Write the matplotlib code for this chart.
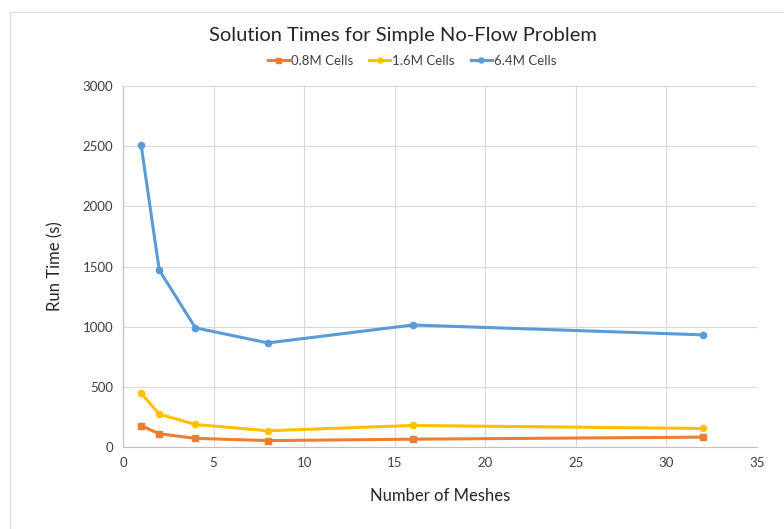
import matplotlib
matplotlib.use("Agg")
import matplotlib.pyplot as plt
from matplotlib.patches import Rectangle

meshes = [1, 2, 4, 8, 16, 32]
cells_08 = [177, 110, 72, 53, 65, 82]
cells_16 = [447, 273, 187, 135, 179, 154]
cells_64 = [2510, 1470, 990, 865, 1014, 932]

x_ticks = [0, 5, 10, 15, 20, 25, 30, 35]
y_ticks = [0, 500, 1000, 1500, 2000, 2500, 3000]

plt.rcParams["font.family"] = ["Lato", "DejaVu Sans"]

fig = plt.figure(figsize=(7.84, 5.29), dpi=100)
# outer chart frame, only its left and top edges are inside the image
fig.patches.append(Rectangle((10 / 784, -0.05), 1.1, 1 - 12 / 529 + 0.05, transform=fig.transFigure,
                             fill=False, edgecolor="#d9d9d9", lw=0.9))
ax = fig.add_axes([123 / 784, 1 - 447 / 529, (757 - 123) / 784, (447 - 86) / 529])

series = [
    ("0.8M Cells", cells_08, "#ED7D31", "s"),
    ("1.6M Cells", cells_16, "#FFC000", "o"),
    ("6.4M Cells", cells_64, "#5B9BD5", "o"),
]
for label, values, color, marker in series:
    ax.plot(meshes, values, color=color, lw=2.2, marker=marker, markersize=4.5, label=label)

ax.set_xlim(0, 35)
ax.set_ylim(0, 3000)
ax.set_xticks(x_ticks)
ax.set_yticks(y_ticks)
ax.grid(True, color="#d9d9d9", lw=0.8)
ax.set_axisbelow(True)
for side in ("top", "right"):
    ax.spines[side].set_visible(False)
for side in ("left", "bottom"):
    ax.spines[side].set_color("#bfbfbf")
    ax.spines[side].set_linewidth(0.8)
ax.tick_params(length=0, labelsize=9.5, labelcolor="#404040", pad=7)

ax.set_xlabel("Number of Meshes", fontsize=12, color="#262626", labelpad=14)
ax.set_ylabel("Run Time (s)", fontsize=12, color="#262626", labelpad=14)
fig.text(403 / 784, 1 - 35 / 529, "Solution Times for Simple No-Flow Problem",
         ha="center", va="center", fontsize=14.5, color="#262626")
leg = ax.legend(loc="center", bbox_to_anchor=((412 - 123) / 634, 1 + 25 / 361), ncol=3, frameon=False,
                fontsize=9.5, handlelength=1.6, handletextpad=0.15, columnspacing=1.2,
                labelcolor="#404040", markerscale=0.8)

fig.savefig("out.png", dpi=100)
